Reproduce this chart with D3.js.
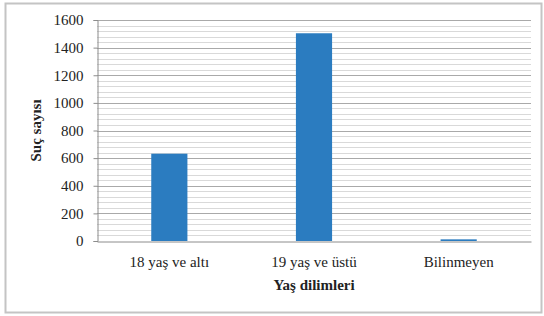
<!DOCTYPE html>
<html>
<head>
<meta charset="utf-8">
<script src="https://cdn.jsdelivr.net/npm/d3@7"></script>
<style>
  body { margin: 0; background: #fff; }
  svg text { font-family: "Liberation Serif", "Times New Roman", serif !important; }
</style>
</head>
<body>
<svg id="chart" width="544" height="316"></svg>
<script>
var categories = ["18 yaş ve altı", "19 yaş ve üstü", "Bilinmeyen"];
var values = [632, 1504, 12];
var yTicks = [0, 200, 400, 600, 800, 1000, 1200, 1400, 1600];
var minorTicks = d3.range(0, 1601, 40);
var xTitle = "Yaş dilimleri";
var yTitle = "Suç sayısı";

var FONT = "Liberation Serif";
var svg = d3.select("#chart");
var plotL = 97, plotR = 531, plotT = 20, plotB = 241;

// outer frame
svg.append("rect")
  .attr("x", 5.5).attr("y", 3.5)
  .attr("width", 536).attr("height", 309)
  .attr("fill", "#fff")
  .attr("stroke", "#c4c4c4")
  .attr("stroke-width", 2);

var x = d3.scaleBand().domain(categories).range([plotL, plotR]).paddingInner(0.75).paddingOuter(0.375);
var y = d3.scaleLinear().domain([0, 1600]).range([plotB, plotT]);

// minor gridlines
svg.append("g").selectAll("line")
  .data(minorTicks.filter(function(d){ return d % 200 != 0; }))
  .enter().append("line")
  .attr("x1", plotL).attr("x2", plotR)
  .attr("y1", function(d){ return Math.round(y(d)) + 0.5; })
  .attr("y2", function(d){ return Math.round(y(d)) + 0.5; })
  .attr("stroke", "#d9d9d9");

// major gridlines
svg.append("g").selectAll("line")
  .data(yTicks.slice(1))
  .enter().append("line")
  .attr("x1", plotL).attr("x2", plotR)
  .attr("y1", function(d){ return Math.round(y(d)) + 0.5; })
  .attr("y2", function(d){ return Math.round(y(d)) + 0.5; })
  .attr("stroke", "#a9a9a9");

// bars
svg.append("g").selectAll("rect")
  .data(values)
  .enter().append("rect")
  .attr("x", function(d, i){ return x(categories[i]); })
  .attr("width", x.bandwidth())
  .attr("y", function(d){ return y(d); })
  .attr("height", function(d){ return plotB - y(d); })
  .attr("fill", "#2b7cc0");

// y axis
var yAxis = svg.append("g")
  .attr("transform", "translate(" + (plotL + 0.5) + ",0)")
  .call(d3.axisLeft(y).tickValues(yTicks).tickSize(4).tickPadding(10).tickFormat(d3.format("d")));
yAxis.attr("font-family", null).attr("font-size", null);
yAxis.select(".domain").attr("stroke", "#8c8c8c");
yAxis.selectAll(".tick line").attr("stroke", "#8c8c8c");
yAxis.selectAll("text").attr("fill", "#222").attr("font-family", FONT).attr("font-size", 15);

// x axis
var xAxis = svg.append("g")
  .attr("transform", "translate(0," + (plotB + 0.5) + ")")
  .call(d3.axisBottom(x).tickSize(0).tickPadding(15));
xAxis.attr("font-family", null).attr("font-size", null);
xAxis.select(".domain").attr("stroke", "#8c8c8c");
xAxis.selectAll("text").attr("fill", "#222").attr("font-family", FONT).attr("font-size", 15);

// titles
svg.append("text")
  .attr("x", (plotL + plotR) / 2)
  .attr("y", 290)
  .attr("text-anchor", "middle")
  .attr("font-family", FONT)
  .attr("font-size", 15)
  .attr("font-weight", "bold")
  .attr("fill", "#222")
  .text(xTitle);

svg.append("text")
  .attr("transform", "translate(41," + ((plotT + plotB) / 2) + ") rotate(-90)")
  .attr("text-anchor", "middle")
  .attr("font-family", FONT)
  .attr("font-size", 15)
  .attr("font-weight", "bold")
  .attr("fill", "#222")
  .text(yTitle);
</script>
</body>
</html>
